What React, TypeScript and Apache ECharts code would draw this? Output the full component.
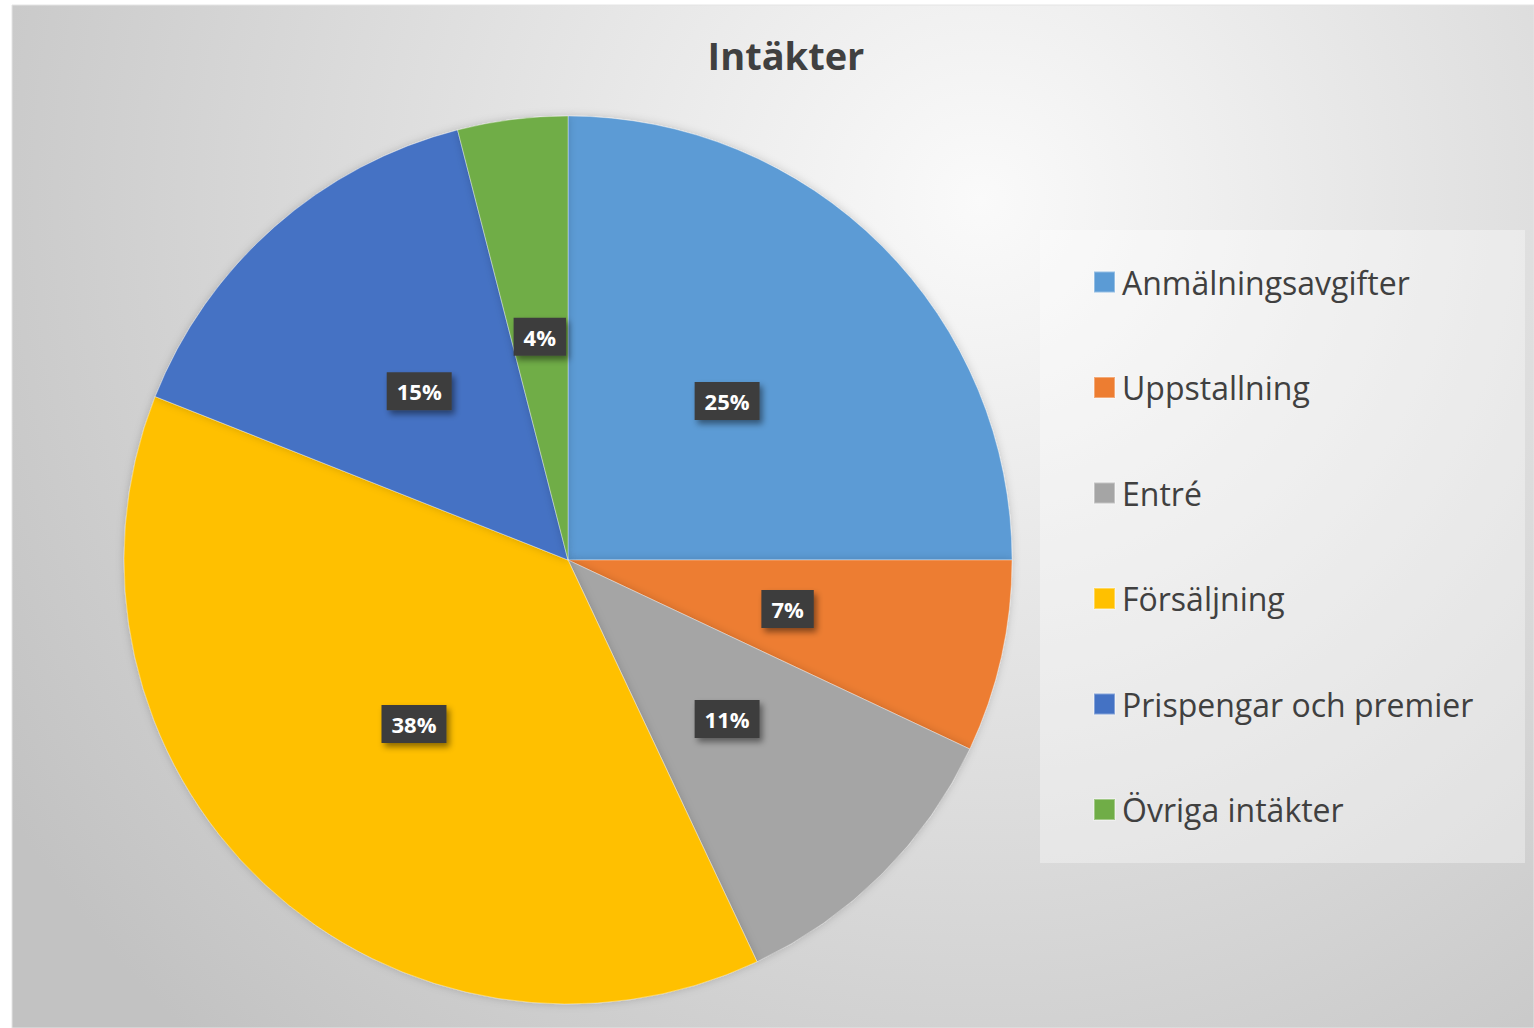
import React, { useEffect, useRef } from "react";
import * as echarts from "echarts";

const categories = [
  "Anmälningsavgifter",
  "Uppstallning",
  "Entré",
  "Försäljning",
  "Prispengar och premier",
  "Övriga intäkter",
];
const values = [25, 7, 11, 38, 15, 4];
const colors = ["#5B9BD5", "#ED7D31", "#A5A5A5", "#FFC000", "#4472C4", "#70AD47"];
const title = "Intäkter";

export default function App() {
  const ref = useRef<HTMLDivElement>(null);
  useEffect(() => {
    document.body.style.margin = "0";
    const chart = echarts.init(ref.current!, null, { renderer: "svg" });
    chart.setOption({
      animation: false,
      backgroundColor: "#ffffff",
      graphic: [
        {
          type: "rect",
          z: -10,
          silent: true,
          shape: { x: 12, y: 5, width: 1522, height: 1023 },
          style: {
            fill: {
              type: "radial",
              x: 980,
              y: 200,
              r: 1150,
              global: true,
              colorStops: [
                { offset: 0, color: "#fafafa" },
                { offset: 1, color: "#c2c2c2" },
              ],
            },
            stroke: "#e4e4e4",
            lineWidth: 1,
          },
        },
        {
          type: "rect",
          z: -5,
          silent: true,
          shape: { x: 1040, y: 230, width: 485, height: 633 },
          style: { fill: "rgba(255,255,255,0.35)" },
        },
      ],
      title: {
        text: title,
        left: 781,
        top: 31,
        textAlign: "center",
        textStyle: {
          fontFamily: "Open Sans",
          fontWeight: "bold",
          fontSize: 38,
          color: "#404040",
        },
      },
      legend: {
        orient: "vertical",
        left: 1093,
        top: 266,
        padding: 0,
        itemWidth: 21,
        itemHeight: 21,
        itemGap: 73.5,
        icon: "rect",
        data: categories,
        textStyle: {
          fontFamily: "Open Sans",
          fontSize: 32,
          color: "#404040",
          padding: [0, 0, 0, 2],
        },
      },
      series: [
        {
          type: "pie",
          center: [568, 560],
          radius: [0, 444],
          startAngle: 90,
          clockwise: true,
          data: categories.map((c, i) => ({
            name: c,
            value: values[i],
            itemStyle: { color: colors[i] },
          })),
          itemStyle: {
            borderColor: "rgba(255,255,255,0.35)",
            borderWidth: 1,
            shadowColor: "rgba(0,0,0,0.18)",
            shadowBlur: 8,
          },
          label: {
            position: "inside",
            formatter: (p: any) => p.value + "%",
            fontFamily: "Open Sans",
            fontWeight: "bold",
            fontSize: 22,
            color: "#ffffff",
            backgroundColor: "#3d3d3d",
            padding: [9, 10, 7, 10],
            shadowColor: "rgba(0,0,0,0.45)",
            shadowBlur: 6,
            shadowOffsetX: 3,
            shadowOffsetY: 4,
          },
          labelLine: { show: false },
          emphasis: { disabled: true },
        },
      ],
    });
    return () => chart.dispose();
  }, []);
  return <div ref={ref} style={{ width: 1534, height: 1028 }} />;
}
